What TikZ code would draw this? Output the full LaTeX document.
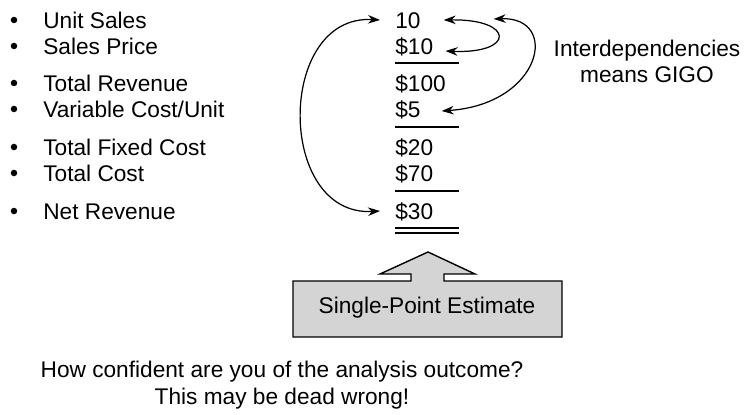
\documentclass[tikz,border=0pt]{standalone}
\usepackage{fontspec}
\setmainfont{Liberation Sans}
\usepackage{xcolor}
\usetikzlibrary{arrows.meta}

\tikzset{
  lbl/.style={anchor=west, inner sep=0pt, text height=0.33cm, text depth=0pt},
  dot/.style={circle, fill, inner sep=0pt, minimum size=0.13cm},
  link/.style={{Stealth[length=0.24cm,width=0.17cm]}-{Stealth[length=0.24cm,width=0.17cm]}, line width=0.7pt},
  rule/.style={line width=0.8pt}
}

\begin{document}
\begin{tikzpicture}[font=\fontsize{12.9}{15}\selectfont]
  \useasboundingbox (0,0) rectangle (14.9,8.28);

  % items
  \node[dot] (bUnit) at (0.28,7.88) {};
  \node[dot] (bPrice) at (0.28,7.36) {};
  \node[dot] (bRev) at (0.28,6.62) {};
  \node[dot] (bVar) at (0.28,6.10) {};
  \node[dot] (bFix) at (0.28,5.34) {};
  \node[dot] (bCost) at (0.28,4.82) {};
  \node[dot] (bNet) at (0.28,4.06) {};
  \node[lbl] (lUnit) at (0.86,7.88) {Unit Sales};
  \node[lbl] (lPrice) at (0.86,7.36) {Sales Price};
  \node[lbl] (lRev) at (0.86,6.62) {Total Revenue};
  \node[lbl] (lVar) at (0.86,6.10) {Variable Cost/Unit};
  \node[lbl] (lFix) at (0.86,5.34) {Total Fixed Cost};
  \node[lbl] (lCost) at (0.86,4.82) {Total Cost};
  \node[lbl] (lNet) at (0.86,4.06) {Net Revenue};

  % values
  \node[lbl] (vUnit) at (7.90,7.88) {10};
  \node[lbl] (vPrice) at (7.90,7.36) {\$10};
  \node[lbl] (vRev) at (7.90,6.62) {\$100};
  \node[lbl] (vVar) at (7.90,6.10) {\$5};
  \node[lbl] (vFix) at (7.90,5.34) {\$20};
  \node[lbl] (vCost) at (7.90,4.82) {\$70};
  \node[lbl] (vNet) at (7.90,4.06) {\$30};
  \draw[rule] (7.90,7.02) -- (9.18,7.02);
  \draw[rule] (7.90,5.74) -- (9.18,5.74);
  \draw[rule] (7.90,4.46) -- (9.18,4.46);
  \draw[rule] (7.90,3.72) -- (9.18,3.72);
  \draw[rule] (7.90,3.62) -- (9.18,3.62);

  % interdependencies
  \draw[link] ([xshift=0.455cm]vUnit.east) .. controls (10.3,7.9) and (10.3,7.2) .. ([xshift=0.24cm,yshift=-0.1cm]vPrice.east);
  \draw[link] ([xshift=1.455cm,yshift=0.02cm]vUnit.east) .. controls (11.2,7.95) and (10.85,6.2) .. ([xshift=0.415cm,yshift=-0.04cm]vVar.east);
  \draw[link] ([xshift=-0.3cm]vUnit.west) .. controls (5.52,8.0) and (5.52,3.94) .. ([xshift=-0.3cm]vNet.west);
  \node[align=center] (gigo) at (12.94,7.05) {Interdependencies\\means GIGO};

  % estimate box
  \filldraw[fill=black!17, line width=0.8pt] (5.86,2.66) -- (8.22,2.66) -- (8.22,2.80) -- (7.60,2.80) -- (8.56,3.24) -- (9.50,2.80) -- (8.88,2.80) -- (8.88,2.66) -- (11.24,2.66) -- (11.24,1.54) -- (5.86,1.54) -- cycle;
  \node (est) at (8.54,2.12) {Single-Point Estimate};

  \node[align=center] (ask) at (5.64,0.58) {How confident are you of the analysis outcome?\\This may be dead wrong!};
\end{tikzpicture}
\end{document}
